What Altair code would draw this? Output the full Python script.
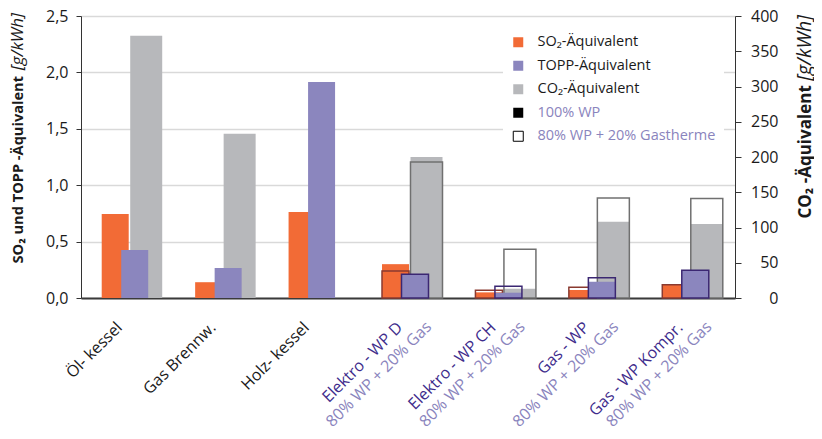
import altair as alt
import pandas as pd

# ---------------- data ----------------
categories = ["Öl- kessel", "Gas Brennw.", "Holz- kessel", "Elektro - WP D",
              "Elektro - WP CH", "Gas - WP", "Gas - WP Kompr."]
mix_line = ["", "", "", "80% WP + 20% Gas", "80% WP + 20% Gas",
            "80% WP + 20% Gas", "80% WP + 20% Gas"]

series = ["SO₂-Äquivalent", "TOPP-Äquivalent", "CO₂-Äquivalent"]
variants = ["100% WP", "80% WP + 20% Gastherme"]

# 100 % WP (and conventional heating systems)
so2_100 = [0.745, 0.14, 0.762, 0.30, 0.05, 0.071, 0.118]
topp_100 = [0.426, 0.266, 1.915, 0.21, 0.047, 0.145, 0.245]
co2_100 = [372, 233, 0, 200, 13, 108, 105]
# 80 % WP + 20 % Gastherme
so2_80 = [None, None, None, 0.24, 0.068, 0.095, 0.118]
topp_80 = [None, None, None, 0.21, 0.104, 0.18, 0.245]
co2_80 = [None, None, None, 193, 69, 142, 141]

left_max = 2.5
right_max = 400

# ---------------- styles ----------------
FONT = "Open Sans"
fill_colors = ["#F26B36", "#8B86BE", "#B7B8BB"]
stroke_colors = ["#8A3A30", "#3B2772", "#707070"]
# per series: (bar width, x offset from band centre)
geom = {series[0]: (27, -12.5), series[1]: (27, 7), series[2]: (32, 18.5)}

rows = []
for i, c in enumerate(categories):
    for s, a, b in zip(series, [so2_100, topp_100, co2_100], [so2_80, topp_80, co2_80]):
        rows.append(dict(cat=c, serie=s, var="100", wert=a[i]))
        if b[i] is not None:
            rows.append(dict(cat=c, serie=s, var="80", wert=b[i]))
df = pd.DataFrame(rows)
# CO2 is read against the right axis: bring it onto the left scale by the axis ratio
df["ylinks"] = [w * left_max / right_max if s == series[2] else w
                for s, w in zip(df["serie"], df["wert"])]

lab = pd.DataFrame({"cat": categories, "l1": categories, "l2": mix_line,
                    "c1": ["#1a1a1a"] * 3 + ["#3E2C8C"] * 4})

X = alt.X("cat:N", sort=categories,
          scale=alt.Scale(domain=categories, paddingInner=0, paddingOuter=0),
          axis=alt.Axis(labels=False, ticks=False, title=None,
                        domainColor="#3a3a3a", domainWidth=2))

Y_LEFT = alt.Y("ylinks:Q",
               scale=alt.Scale(domain=[0, left_max], nice=False, zero=True),
               axis=alt.Axis(values=[0, 0.5, 1.0, 1.5, 2.0, 2.5],
                             labelExpr="replace(format(datum.value, '.1f'), '.', ',')",
                             grid=True, gridColor="#D9D9D9", gridWidth=1.5,
                             domainColor="#333333", tickColor="#333333", tickSize=5,
                             labelFont=FONT, labelFontSize=16, labelColor="#1a1a1a",
                             labelPadding=8,
                             title="SO₂ und TOPP -Äquivalent", titleFont=FONT,
                             titleFontSize=14.6, titleFontWeight="bold",
                             titleColor="#1a1a1a", titleAngle=270,
                             titleAlign="left", titleBaseline="middle",
                             titleX=-63, titleY=247))

legend = alt.Legend(title=None, orient="none", legendX=422, legendY=11,
                    fillColor="white", padding=8, rowPadding=7.5,
                    symbolType="square", symbolSize=100, labelOffset=12,
                    labelFont=FONT, labelFontSize=14.5, labelLimit=400,
                    labelColor=alt.ExprRef("indexof(['100% WP', '80% WP + 20% Gastherme'], datum.value) >= 0 ? '#8A84BD' : '#1a1a1a'"),
                    symbolStrokeColor=alt.ExprRef("datum.value == '80% WP + 20% Gastherme' ? '#000000' : 'transparent'"),
                    symbolStrokeWidth=1)

COLOR = alt.Color("serie:N",
                  scale=alt.Scale(domain=series + variants,
                                  range=fill_colors + ["#000000", "#ffffff"]),
                  legend=legend)
STROKE = alt.Stroke("serie:N", scale=alt.Scale(domain=series, range=stroke_colors),
                    legend=None)

base = alt.Chart(df)


def part(serie, var, kind):
    w, o = geom[serie]
    ch = base.transform_filter((alt.datum.serie == serie) & (alt.datum.var == var))
    if kind == "white":
        return ch.mark_bar(fill="white", width=w, xOffset=o).encode(x=X, y=Y_LEFT)
    if kind == "fill":
        return ch.mark_bar(width=w, xOffset=o).encode(x=X, y=Y_LEFT, color=COLOR)
    return ch.mark_bar(fillOpacity=0, strokeWidth=1.5, width=w, xOffset=o).encode(
        x=X, y=Y_LEFT, stroke=STROKE)


layers = [part(s, "80", "white") for s in series]
for s in [series[2], series[0], series[1]]:
    layers.append(part(s, "100", "fill"))
    layers.append(part(s, "80", "stroke"))

# category labels (two coloured lines)
lab1 = alt.Chart(lab).mark_text(angle=315, align="right", baseline="middle",
                                font=FONT, fontSize=16, dx=-5.7, dy=-5.7).encode(
    x=X, y=alt.value(309), text="l1:N", color=alt.Color("c1:N", scale=None))
lab2 = alt.Chart(lab).transform_filter(alt.datum.l2 != "").mark_text(
    angle=315, align="right", baseline="middle", font=FONT, fontSize=16,
    dx=15.3, dy=14.3, color="#8A84BD").encode(x=X, y=alt.value(309), text="l2:N")

unit = pd.DataFrame({"t": ["[g/kWh]"]})
unit_l = alt.Chart(unit).mark_text(angle=270, align="right", baseline="middle",
                                   font=FONT, fontSize=17, fontStyle="italic",
                                   color="#1a1a1a").encode(
    x=alt.value(-63), y=alt.value(-3), text="t:N")
unit_r = alt.Chart(unit).mark_text(angle=270, align="right", baseline="middle",
                                   font=FONT, fontSize=19.5, fontStyle="italic",
                                   color="#1a1a1a").encode(
    x=alt.value(724), y=alt.value(-1), text="t:N")

main = alt.layer(*layers, lab1, lab2, unit_l, unit_r)

right = alt.Chart(df).transform_filter(alt.datum.serie == series[2]).mark_point(
    opacity=0).encode(
    x=X,
    y=alt.Y("wert:Q", scale=alt.Scale(domain=[0, right_max], nice=False),
            axis=alt.Axis(orient="right", values=list(range(0, 401, 50)), format="d",
                          grid=False, domainColor="#333333", tickColor="#333333",
                          tickSize=6, labelFont=FONT, labelFontSize=16,
                          labelColor="#1a1a1a", labelAlign="right", labelPadding=37,
                          title="CO₂ -Äquivalent", titleFont=FONT, titleFontSize=17,
                          titleFontWeight="bold", titleColor="#1a1a1a",
                          titleAngle=270, titleAlign="left", titleBaseline="middle",
                          titleX=70, titleY=202)))

chart = alt.layer(main, right).resolve_scale(y="independent").properties(
    width=654, height=282,
    autosize=alt.AutoSizeParams(type="none"),
    padding={"left": 73, "top": 8, "right": 79, "bottom": 132},
).configure_view(fill="#F7F7F7", stroke=None).configure(background="white")

chart.save("out.html", embed_options={"renderer": "svg", "actions": False})
